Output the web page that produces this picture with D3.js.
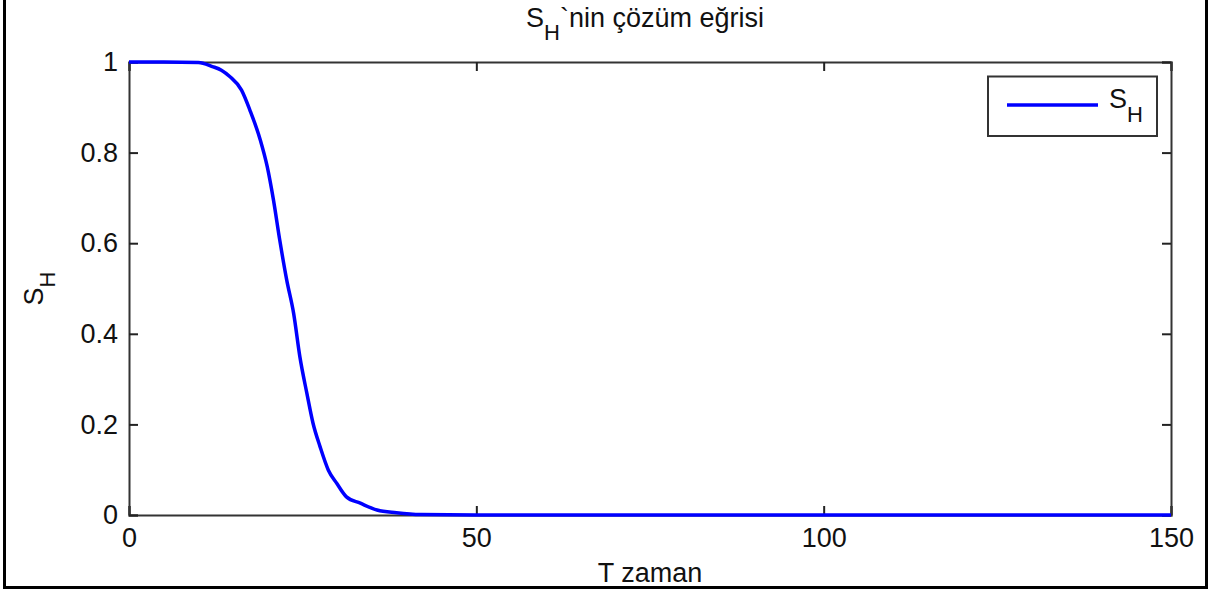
<!DOCTYPE html>
<html>
<head>
<meta charset="utf-8">
<script src="https://cdn.jsdelivr.net/npm/d3@7"></script>
<style>
  body { margin: 0; background: #fff; }
  svg text { font-family: "Liberation Sans", Arial, sans-serif; fill: #111; }
</style>
</head>
<body>
<svg id="chart" width="1209" height="591"></svg>
<script>
// solution curve S_H(t)
var tValues = [0, 5, 10, 12, 13.3, 14.5, 16.2, 17.4, 18.9, 19.9, 20.8, 21.7, 22.7, 23.7, 24.6,
               25.6, 26.5, 27.5, 28.7, 29.9, 31.3, 33.3, 35.7, 38.5, 42, 50, 75, 100, 125, 150];
var shValues = [1, 1, 0.999, 0.99, 0.982, 0.968, 0.938, 0.894, 0.828, 0.769, 0.695, 0.607, 0.519, 0.445, 0.349,
                0.269, 0.202, 0.151, 0.099, 0.070, 0.040, 0.026, 0.011, 0.005, 0.001, 0, 0, 0, 0, 0];
var xTicks = [0, 50, 100, 150];
var yTicks = [0, 0.2, 0.4, 0.6, 0.8, 1];

var width = 1209, height = 591;
var margin = {left: 129, right: 1171, top: 62, bottom: 515};
var fontSize = 27, subSize = 22;

var svg = d3.select('#chart');

// outer frame (no top edge, as in the picture)
svg.append('path')
  .attr('d', 'M4.5,0 V587.5 H1206.5 V0')
  .attr('fill', 'none')
  .attr('stroke', '#000')
  .attr('stroke-width', 3);

var x = d3.scaleLinear().domain([0, 150]).range([margin.left, margin.right]);
var y = d3.scaleLinear().domain([0, 1]).range([margin.bottom, margin.top]);

var tick = 9;

// axes, ticks pointing inward on all four sides
svg.append('g')
  .attr('transform', 'translate(0,' + margin.bottom + ')')
  .call(d3.axisBottom(x).tickValues(xTicks).tickSize(-tick).tickPadding(13).tickFormat(d3.format('d')))
  .call(g => g.selectAll('text').attr('font-size', fontSize));

svg.append('g')
  .attr('transform', 'translate(0,' + margin.top + ')')
  .call(d3.axisTop(x).tickValues(xTicks).tickSize(-tick).tickFormat(''));

svg.append('g')
  .attr('transform', 'translate(' + margin.left + ',0)')
  .call(d3.axisLeft(y).tickValues(yTicks).tickSize(-tick).tickPadding(11).tickFormat(d3.format('')))
  .call(g => g.selectAll('text').attr('font-size', fontSize));

svg.append('g')
  .attr('transform', 'translate(' + margin.right + ',0)')
  .call(d3.axisRight(y).tickValues(yTicks).tickSize(-tick).tickFormat(''));

svg.selectAll('.domain').attr('stroke', '#333').attr('stroke-width', 2);
svg.selectAll('.tick line').attr('stroke', '#222').attr('stroke-width', 2);
svg.selectAll('.tick text').attr('font-family', '"Liberation Sans", Arial, sans-serif').attr('fill', '#111');

// curve
var data = tValues.map(function(t, i) { return {t: t, v: shValues[i]}; });
var line = d3.line()
  .x(function(d) { return x(d.t); })
  .y(function(d) { return y(d.v); })
  .curve(d3.curveMonotoneX);

svg.append('path')
  .datum(data)
  .attr('d', line)
  .attr('fill', 'none')
  .attr('stroke', '#0000ff')
  .attr('stroke-width', 3.5);

// title
var title = svg.append('text')
  .attr('x', 645)
  .attr('y', 27)
  .attr('text-anchor', 'middle')
  .attr('font-size', fontSize);
title.append('tspan').text('S');
title.append('tspan').attr('dy', 13).attr('font-size', subSize).text('H');
title.append('tspan').attr('dy', -13).text('`nin çözüm eğrisi');

// x label
svg.append('text')
  .attr('x', x(75))
  .attr('y', 582)
  .attr('text-anchor', 'middle')
  .attr('font-size', fontSize)
  .text('T zaman');

// y label
var ylab = svg.append('text')
  .attr('transform', 'translate(43,' + ((margin.top + margin.bottom) / 2) + ') rotate(-90)')
  .attr('text-anchor', 'middle')
  .attr('font-size', fontSize);
ylab.append('tspan').text('S');
ylab.append('tspan').attr('dy', 12).attr('font-size', subSize).text('H');

// legend
var legend = svg.append('g');
legend.append('rect')
  .attr('x', 988).attr('y', 76.5)
  .attr('width', 169).attr('height', 59.5)
  .attr('fill', '#fff')
  .attr('stroke', '#333')
  .attr('stroke-width', 2);
legend.append('line')
  .attr('x1', 1007).attr('x2', 1098)
  .attr('y1', 105).attr('y2', 105)
  .attr('stroke', '#0000ff')
  .attr('stroke-width', 3.5);
var ltext = legend.append('text')
  .attr('x', 1109).attr('y', 108)
  .attr('font-size', fontSize);
ltext.append('tspan').text('S');
ltext.append('tspan').attr('dy', 14).attr('font-size', subSize).text('H');
</script>
</body>
</html>
